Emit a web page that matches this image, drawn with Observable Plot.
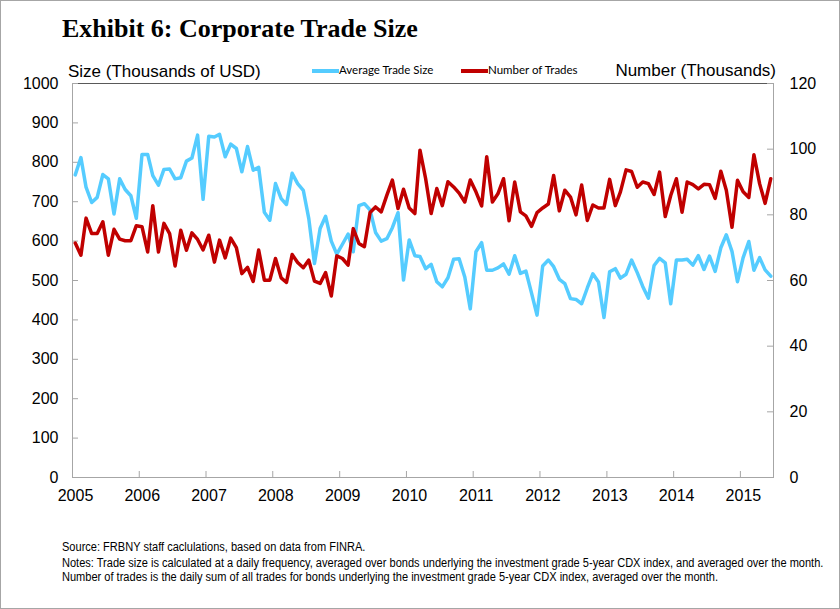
<!DOCTYPE html>
<html>
<head>
<meta charset="utf-8">
<script src="https://cdn.jsdelivr.net/npm/d3@7"></script>
<script src="https://cdn.jsdelivr.net/npm/@observablehq/plot@0.6"></script>
<style>
  body { margin: 0; background: #fff; }
  #wrap { position: relative; width: 840px; height: 609px; overflow: hidden; background: #fff;
          font-family: "Liberation Sans", Arial, sans-serif; color: #000; }
  #border { position: absolute; left: 0; top: 0; width: 838px; height: 607px; border: 1px solid #a6a6a6; pointer-events: none; }
  #chart { position: absolute; left: 0; top: 0; }
  .t { position: absolute; white-space: nowrap; }
  .sw { position: absolute; height: 4px; }
  .foot { position: absolute; left: 62px; white-space: nowrap; font-family: "Liberation Sans", Arial, sans-serif;
          font-size: 12px; line-height: 14px; transform: scaleX(0.92); transform-origin: 0 0; }
</style>
</head>
<body>
<div id="wrap">
  <div id="chart"></div>
  <div class="t" id="title" style="left:62px; top:14px; font-family:'Liberation Serif', serif; font-weight:bold; font-size:26px; line-height:30px;"></div>
  <div class="t" id="ylabL" style="left:68px; top:63px; font-size:17px; line-height:17px;"></div>
  <div class="t" id="ylabR" style="right:64px; top:62px; font-size:17px; line-height:17px;"></div>
  <div id="legend"></div>
  <div class="foot" id="foot" style="top:540px;"></div>
  <div id="border"></div>
</div>
<script>
// ---------------- data ----------------
const firstYear = 2005;           // monthly series start: January 2005
const seriesNames = ["Average Trade Size", "Number of Trades"];
const seriesColors = ["#55CCFF", "#C00000"];

// Average trade size, thousands of USD (left axis), Jan 2005 - Jun 2015
const tradeSize = [
  768, 812, 737, 698, 711, 769, 758, 669, 758, 731, 715, 658,
  820, 820, 766, 742, 782, 783, 758, 761, 803, 811, 869, 706,
  866, 864, 871, 814, 846, 835, 776, 840, 780, 787, 673, 653,
  746, 708, 693, 772, 746, 729, 657, 543, 632, 663, 600, 567,
  592, 618, 573, 690, 695, 679, 622, 600, 606, 634, 672, 501,
  603, 563, 561, 530, 541, 497, 484, 507, 554, 555, 509, 428,
  573, 596, 526, 526, 532, 542, 516, 563, 518, 524, 468, 412,
  537, 552, 535, 503, 492, 454, 452, 441, 481, 517, 496, 406,
  522, 530, 506, 516, 552, 520, 485, 455, 538, 556, 545, 441,
  552, 552, 554, 539, 563, 528, 562, 523, 583, 616, 574, 497,
  558, 599, 526, 558, 527, 511
];

// Number of trades, thousands (right axis), Jan 2005 - Jun 2015
const tradeCount = [
  71.4, 67.7, 79.0, 74.3, 74.3, 77.9, 67.7, 75.6, 72.6, 72.1, 72.1, 76.7,
  76.4, 68.7, 82.8, 68.7, 77.4, 74.3, 64.4, 75.3, 69.2, 74.5, 72.5, 69.3,
  73.8, 65.6, 72.3, 66.9, 72.9, 70.0, 62.1, 64.0, 59.7, 69.3, 60.1, 60.1,
  66.7, 60.8, 59.4, 67.9, 65.5, 63.9, 66.2, 59.8, 59.1, 62.4, 55.3, 67.5,
  66.7, 64.7, 75.8, 71.3, 70.3, 80.7, 82.4, 80.9, 86.0, 90.6, 81.9, 87.8,
  82.1, 80.4, 99.7, 91.0, 80.4, 88.0, 82.8, 90.1, 88.5, 86.6, 83.9, 90.6,
  87.0, 82.7, 97.7, 83.9, 86.4, 91.0, 78.2, 90.0, 80.9, 79.7, 76.5, 80.7,
  82.1, 83.3, 92.0, 81.2, 87.5, 85.4, 80.0, 89.1, 78.3, 83.0, 82.1, 82.1,
  90.8, 82.8, 87.0, 93.7, 93.2, 88.4, 90.0, 89.5, 86.2, 93.0, 79.5, 85.9,
  91.0, 80.8, 90.0, 89.2, 87.9, 89.3, 89.2, 85.0, 93.3, 87.5, 76.2, 90.5,
  87.0, 85.3, 98.3, 89.5, 83.5, 91.0
];

const yearTicks = [2005, 2006, 2007, 2008, 2009, 2010, 2011, 2012, 2013, 2014, 2015];
const sizeTicks = [0, 100, 200, 300, 400, 500, 600, 700, 800, 900, 1000];
const countTicks = [0, 20, 40, 60, 80, 100, 120];

const titleText = "Exhibit 6: Corporate Trade Size";
const leftAxisTitle = "Size (Thousands of USD)";
const rightAxisTitle = "Number (Thousands)";
const footLines = [
  "Source: FRBNY staff caclulations, based on data from FINRA.",
  "Notes: Trade size is calculated at a daily frequency, averaged over bonds underlying the investment grade 5-year CDX index, and averaged over the month.",
  "Number of trades is the daily sum of all trades for bonds underlying the investment grade 5-year CDX index, averaged over the month."
];

// ---------------- build ----------------
const sizeMax = sizeTicks[sizeTicks.length - 1];
const countMax = countTicks[countTicks.length - 1];
const toLeft = v => v * sizeMax / countMax;     // right-axis value -> left scale

const monthDate = i => new Date(Date.UTC(firstYear, i, 16));
const rows = tradeSize.map((v, i) => ({date: monthDate(i), size: v, count: tradeCount[i]}));
const yearDates = yearTicks.map(y => new Date(Date.UTC(y, 0, 1)));

const W = 840, H = 609;
const mL = 72, mR = 67, mT = 83, mB = 132;
const plotW = W - mL - mR, plotH = H - mT - mB;

const chart = Plot.plot({
  width: W,
  height: H,
  marginLeft: mL,
  marginRight: mR,
  marginTop: mT,
  marginBottom: mB,
  style: {fontFamily: "'Liberation Sans', Arial, sans-serif", fontSize: "16px", color: "#000", background: "transparent"},
  x: {type: "utc", domain: [new Date(Date.UTC(firstYear, 0, 1)), new Date(Date.UTC(firstYear, tradeSize.length, 1))], axis: null},
  y: {domain: [0, sizeMax], axis: null},
  marks: [
    Plot.frame({stroke: "#a6a6a6"}),
    Plot.ruleY([sizeMax], {stroke: "#595959"}),
    Plot.tickY(sizeTicks, {y: d => d, insetRight: plotW - 6, stroke: "#a6a6a6"}),
    Plot.tickY(countTicks, {y: d => toLeft(d), insetLeft: plotW - 6, stroke: "#a6a6a6"}),
    Plot.tickX(yearDates, {x: d => d, insetTop: plotH - 6, stroke: "#a6a6a6"}),
    Plot.lineY(rows, {x: "date", y: "size", stroke: seriesColors[0], strokeWidth: 3.5, strokeLinejoin: "round"}),
    Plot.lineY(rows, {x: "date", y: d => toLeft(d.count), stroke: seriesColors[1], strokeWidth: 3.5, strokeLinejoin: "round"}),
    Plot.axisX(yearDates, {tickSize: 0, tickPadding: 12, dx: 3, tickFormat: d => String(d.getUTCFullYear()), label: null}),
    Plot.axisY(sizeTicks, {anchor: "left", tickSize: 0, tickPadding: 14, tickFormat: d => String(d), label: null}),
    Plot.axisY(countTicks.map(toLeft), {anchor: "right", tickSize: 0, tickPadding: 16, tickFormat: d => String(Math.round(d * countMax / sizeMax)), label: null})
  ]
});
document.getElementById("chart").appendChild(chart);

document.getElementById("title").textContent = titleText;
document.getElementById("ylabL").textContent = leftAxisTitle;
document.getElementById("ylabR").textContent = rightAxisTitle;

// legend
const legend = document.getElementById("legend");
const legendPos = [{sw: 312, txt: 339}, {sw: 461, txt: 488}];
seriesNames.forEach((name, i) => {
  const s = document.createElement("div");
  s.className = "sw";
  s.style.left = legendPos[i].sw + "px";
  s.style.top = "69px";
  s.style.width = "27px";
  s.style.background = seriesColors[i];
  legend.appendChild(s);
  const t = document.createElement("div");
  t.className = "t";
  t.style.left = legendPos[i].txt + "px";
  t.style.top = "63px";
  t.style.fontFamily = "Lato, 'Open Sans', sans-serif";
  t.style.fontSize = "11.5px";
  t.style.lineHeight = "14px";
  t.textContent = name;
  legend.appendChild(t);
});

const foot = document.getElementById("foot");
footLines.forEach((line, i) => {
  const d = document.createElement("div");
  d.textContent = line;
  d.style.marginTop = i === 1 ? "2px" : "0px";
  foot.appendChild(d);
});
</script>
</body>
</html>
